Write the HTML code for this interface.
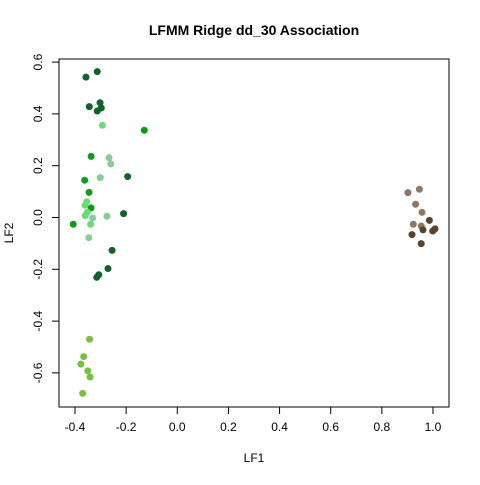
<!DOCTYPE html>
<html><head><meta charset="utf-8"><style>body{margin:0;background:#fff}svg text{font-family:"Liberation Sans",sans-serif}</style></head>
<body>
<svg id="c" width="480" height="480" xmlns="http://www.w3.org/2000/svg">
<rect width="480" height="480" fill="#fff"/>
<text x="254" y="35" text-anchor="middle" font-size="14" font-weight="bold">LFMM Ridge dd_30 Association</text>
<rect x="59" y="59" width="390" height="348" fill="none" stroke="#000"/>
<text x="254" y="462" text-anchor="middle" font-size="12">LF1</text>
<text transform="translate(13,233) rotate(-90)" text-anchor="middle" font-size="12">LF2</text>
<g id="ax"></g><g id="pts"></g>
</svg>
<script>
const xTicks=[-0.4,-0.2,0.0,0.2,0.4,0.6,0.8,1.0];
const yTicks=[-0.6,-0.4,-0.2,0.0,0.2,0.4,0.6];
const xVals=[-0.313,-0.357,-0.344,-0.302,-0.297,-0.313,-0.293,-0.129,-0.337,-0.267,-0.260,-0.301,-0.362,-0.194,-0.345,-0.354,-0.361,-0.337,-0.352,-0.360,-0.331,-0.275,-0.210,-0.407,-0.339,-0.346,-0.255,-0.271,-0.307,-0.315,-0.343,-0.366,-0.377,-0.350,-0.341,-0.370,0.902,0.947,0.932,0.957,0.923,0.954,0.986,0.961,0.918,1.008,0.999,0.954];
const yVals=[0.563,0.542,0.428,0.443,0.423,0.411,0.356,0.337,0.236,0.231,0.207,0.154,0.144,0.158,0.097,0.061,0.047,0.037,0.020,0.007,-0.002,0.005,0.015,-0.026,-0.026,-0.078,-0.127,-0.197,-0.221,-0.231,-0.470,-0.537,-0.566,-0.592,-0.616,-0.679,0.096,0.109,0.051,0.020,-0.026,-0.033,-0.011,-0.048,-0.066,-0.044,-0.052,-0.101];
const groups=["d","d","d","d","d","d","l","m","m","g","g","g","m","d","m","l","l","m","l","l","g","g","d","m","l","g","d","d","d","d","y","y","y","y","y","y","b","b","b","b","b","b","B","B","B","B","B","B"];
const colors={d:"#12612a",l:"#66dd77",m:"#0f9a1a",g:"#88cc99",y:"#77c040",b:"#8b7766",B:"#5a4230"};
const X=v=>75+(v+0.4)*255.7, Y=v=>217.5-v*259;
const NS="http://www.w3.org/2000/svg";
const ax=document.getElementById('ax'), pts=document.getElementById('pts');
function mk(t,a,p){const e=document.createElementNS(NS,t);for(const k in a)e.setAttribute(k,a[k]);p.appendChild(e);return e;}
mk('line',{x1:X(-0.4),x2:X(1.0),y1:407,y2:407,stroke:'#000'},ax);
mk('line',{x1:59,x2:59,y1:Y(-0.6),y2:Y(0.6),stroke:'#000'},ax);
xTicks.forEach(t=>{
 const l=mk('line',{x1:X(t),x2:X(t),y1:407,y2:414,stroke:'#000'},ax);
 
 
 const s=mk('text',{x:X(t),y:431,'text-anchor':'middle','font-size':12},ax);
 s.textContent=t.toFixed(1);
 
 
});
yTicks.forEach(t=>{
 const l=mk('line',{x1:52,x2:59,y1:Y(t),y2:Y(t),stroke:'#000'},ax);
 
 
 const s=mk('text',{transform:`translate(42,${Y(t)}) rotate(-90)`,'text-anchor':'middle','font-size':12},ax);
 s.textContent=t.toFixed(1);
 
 
});
xVals.forEach((v,i)=>{
 const c=mk('circle',{cx:X(v),cy:Y(yVals[i]),r:3.5,fill:colors[groups[i]]},pts);
 
 
});
</script>
</body></html>
